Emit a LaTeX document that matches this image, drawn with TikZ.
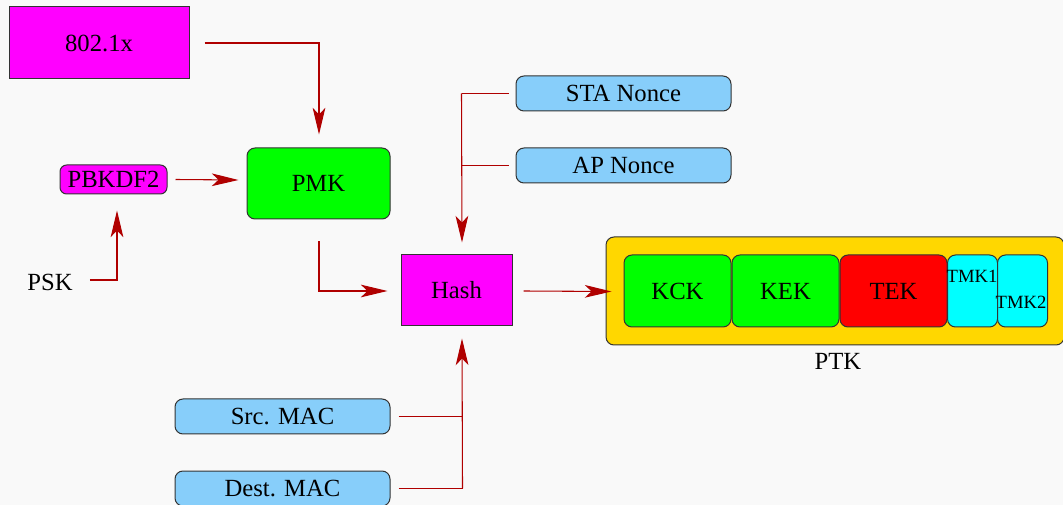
\documentclass[tikz,border=0pt]{standalone}
\usepackage{fontspec}
\setmainfont{Liberation Serif}
\usetikzlibrary{arrows.meta,calc}
\definecolor{bg}{HTML}{F9F9F9}
\definecolor{wire}{HTML}{B00000}
\definecolor{skyfill}{HTML}{87CEFA}
\definecolor{goldfill}{HTML}{FFD700}
\definecolor{pinkfill}{HTML}{FF00FF}
\definecolor{limefill}{HTML}{00FF00}
\definecolor{redfill}{HTML}{FF0000}
\definecolor{aquafill}{HTML}{00FFFF}
\definecolor{edge}{HTML}{333333}
\tikzset{
  blk/.style={draw=edge, line width=0.75pt, inner sep=0pt, font=\fontsize{18.5}{21}\selectfont},
  sqbox/.style={blk, rectangle},
  rbox/.style={blk, rectangle, rounded corners=6pt},
  wirearrow/.style={draw=wire, line width=0.8pt, -{Stealth[length=20pt,width=9.5pt,inset=5pt]}},
  wireline/.style={draw=wire, line width=0.8pt},
  lbl/.style={inner sep=0pt, font=\fontsize{18.5}{21}\selectfont},
}
\begin{document}
\begin{tikzpicture}[x=0.75pt,y=-0.75pt]
  \fill[bg] (0,0) rectangle (1063,505);
  \useasboundingbox (0,0) rectangle (1063,505);

  % source blocks
  \node[sqbox, fill=pinkfill, minimum width=180*0.75pt, minimum height=72*0.75pt] (dot1x) at (99,43) {802.1x};
  \node[rbox, fill=pinkfill, minimum width=107*0.75pt, minimum height=29*0.75pt, rounded corners=5pt] (pbkdf) at (113.5,179.5) {PBKDF2};
  \node[lbl] (psk) at (50,282) {PSK};
  \node[rbox, fill=limefill, minimum width=143*0.75pt, minimum height=71*0.75pt] (pmk) at (318.5,183.5) {PMK};
  \node[sqbox, fill=pinkfill, minimum width=111*0.75pt, minimum height=71*0.75pt] (hash) at (456.5,290.5) {Hash};

  % nonces and addresses
  \node[rbox, fill=skyfill, minimum width=215*0.75pt, minimum height=35*0.75pt] (sta) at (623.5,93.5) {STA Nonce};
  \node[rbox, fill=skyfill, minimum width=215*0.75pt, minimum height=35*0.75pt] (ap) at (623.5,165.5) {AP Nonce};
  \node[rbox, fill=skyfill, minimum width=215*0.75pt, minimum height=35*0.75pt] (src) at (282.5,416.5) {Src. MAC};
  \node[rbox, fill=skyfill, minimum width=215*0.75pt, minimum height=35*0.75pt] (dst) at (282.5,488.5) {Dest. MAC};

  % PTK and its parts
  \node[rbox, fill=goldfill, minimum width=458*0.75pt, minimum height=108*0.75pt] (ptk) at (835,291) {};
  \node[lbl] (ptklabel) at (838,361) {PTK};
  \node[rbox, fill=limefill, minimum width=107*0.75pt, minimum height=72*0.75pt] (kck) at (677.5,291) {KCK};
  \node[rbox, fill=limefill, minimum width=107*0.75pt, minimum height=72*0.75pt] (kek) at (785.5,291) {KEK};
  \node[rbox, fill=redfill, minimum width=107*0.75pt, minimum height=72*0.75pt] (tek) at (893.5,291) {TEK};
  \node[rbox, fill=aquafill, minimum width=50*0.75pt, minimum height=72*0.75pt] (tmka) at (972.5,291) {};
  \node[rbox, fill=aquafill, minimum width=50*0.75pt, minimum height=72*0.75pt] (tmkb) at (1022.5,291) {};
  \node[lbl, font=\fontsize{14}{16}\selectfont] (tmkatext) at (972,276) {TMK1};
  \node[lbl, font=\fontsize{14}{16}\selectfont] (tmkbtext) at (1021,302) {TMK2};

  % connectors
  \draw[wirearrow] ($(dot1x.east)+(15,0)$) -| ($(pmk.north)+(0.5,-13)$);
  \draw[wirearrow] ($(pbkdf.east)+(8,0)$) -- ($(pmk.west)+(-8,-3.5)$);
  \draw[wirearrow] ($(psk.east)+(17,-2)$) -| ($(pbkdf.south)+(3.5,16)$);
  \draw[wirearrow] ($(pmk.south)+(0.5,22)$) |- ($(hash.west)+(-13,0.5)$);
  \draw[wireline] ($(sta.west)+(-7,0)$) -- ($(sta.west)+(-54,0)$) coordinate (bendtop);
  \draw[wireline] ($(ap.west)+(-7,0)$) -- ($(ap.west)+(-54,0)$);
  \draw[wirearrow] (bendtop) -- ($(hash.north)+(5.5,-12)$);
  \draw[wirearrow] ($(hash.east)+(11,0.5)$) -- ($(ptk.west)+(6,0.5)$);
  \draw[wireline] ($(src.east)+(8,0)$) -- ($(src.east)+(72,0)$);
  \draw[wireline] ($(dst.east)+(8,0)$) -- ($(dst.east)+(72,0)$) coordinate (bendlow);
  \draw[wirearrow] (bendlow) -- ($(hash.south)+(5.5,12)$);
\end{tikzpicture}
\end{document}
